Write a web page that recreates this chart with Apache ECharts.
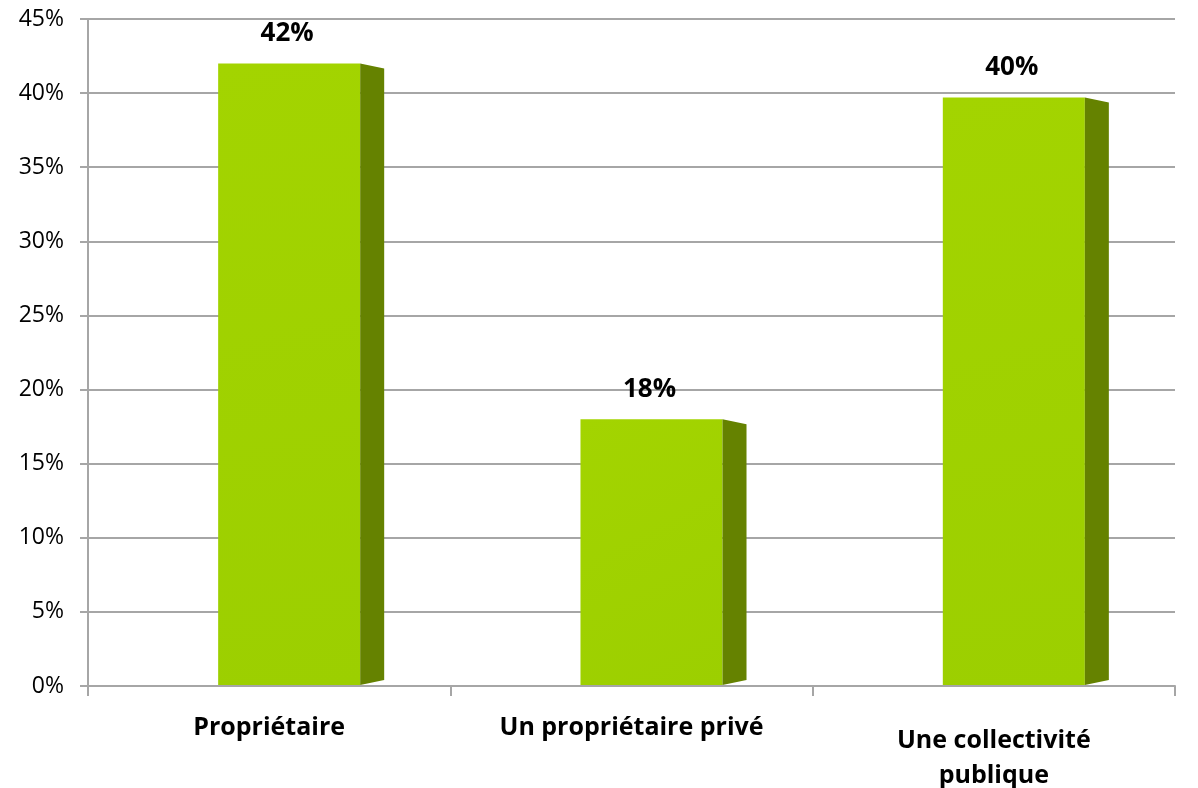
<!DOCTYPE html>
<html>
<head>
<meta charset="utf-8">
<script src="https://cdn.jsdelivr.net/npm/echarts@6/dist/echarts.min.js"></script>
<style>
html,body{margin:0;padding:0;background:#fff;}
#chart{width:1198px;height:788px;}
</style>
</head>
<body>
<div id="chart"></div>
<script>
var categories = ['Propriétaire', 'Un propriétaire privé', 'Une collectivité\npublique'];
var values = [42, 18, 39.7];
var yTicks = ['0%','5%','10%','15%','20%','25%','30%','35%','40%','45%'];

var FONT = '"Open Sans", "Noto Sans", sans-serif';
var chart = echarts.init(document.getElementById('chart'));

function renderBar(params, api) {
  var idx = api.value(0);
  var v = api.value(1);
  var top = api.coord([idx, v]);
  var base = api.coord([idx, 0]);
  var catW = api.size([1, 0])[0];
  var fw = catW * 0.392;
  var sw = 24;
  var slant = 5;
  var cx = top[0] + 20;
  var x0 = cx - fw / 2, x1 = cx + fw / 2;
  return {
    type: 'group',
    children: [
      {
        type: 'rect',
        shape: { x: x0, y: top[1], width: fw, height: base[1] - top[1] - 1 },
        style: { fill: new echarts.graphic.LinearGradient(0, 0, 1, 1, [
          { offset: 0, color: '#a3d400' },
          { offset: 1, color: '#9ccf00' }
        ]) }
      },
      {
        type: 'polygon',
        shape: { points: [[x1, top[1]], [x1 + sw, top[1] + slant], [x1 + sw, base[1] - 1 - slant], [x1, base[1] - 1]] },
        style: { fill: '#658200' }
      },
      {
        type: 'text',
        x: cx - 2, y: top[1] - 30,
        style: {
          text: Math.round(v) + '%',
          fill: '#000', font: 'bold 26px ' + FONT,
          align: 'center', verticalAlign: 'middle'
        }
      }
    ]
  };
}

chart.setOption({
  animation: false,
  backgroundColor: '#fff',
  grid: { left: 88, right: 23, top: 19, bottom: 102, containLabel: false, outerBoundsMode: 'none' },
  xAxis: {
    type: 'category',
    data: categories.map(function (c, i) {
      return i === 2 ? { value: c, textStyle: { padding: [13, 0, 0, 0] } } : c;
    }),
    boundaryGap: true,
    axisLine: { show: true, lineStyle: { color: '#a6a6a6', width: 2 } },
    axisTick: { show: true, length: 10, lineStyle: { color: '#a6a6a6', width: 2 } },
    axisLabel: { color: '#000', fontFamily: FONT, fontWeight: 'bold', fontSize: 25, margin: 24, lineHeight: 35, interval: 0 }
  },
  yAxis: {
    type: 'value',
    min: 0, max: 45, interval: 5,
    axisLine: { show: true, lineStyle: { color: '#a6a6a6', width: 2 } },
    axisTick: { show: true, length: 8, lineStyle: { color: '#a6a6a6', width: 2 } },
    axisLabel: {
      color: '#000', fontFamily: FONT, fontSize: 23, margin: 24,
      formatter: function (val) { return yTicks[Math.round(val / 5)]; }
    },
    splitLine: { show: true, lineStyle: { color: '#a6a6a6', width: 2 } }
  },
  series: [{
    type: 'custom',
    renderItem: renderBar,
    data: values.map(function (v, i) { return [i, v]; }),
    encode: { x: 0, y: 1 },
    clip: false
  }]
});
</script>
</body>
</html>
